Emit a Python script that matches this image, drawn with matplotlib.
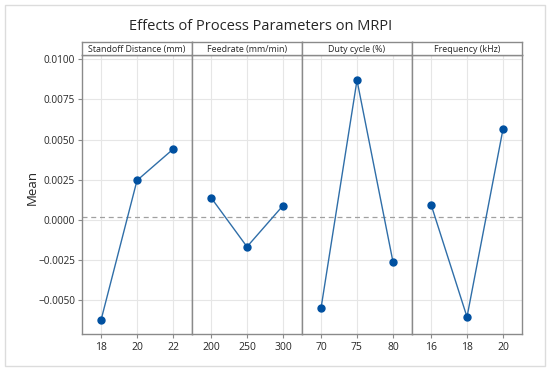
import matplotlib.pyplot as plt
from matplotlib.patches import Rectangle

plt.rcParams['font.family'] = ['Open Sans', 'DejaVu Sans']

# factors and level means
factors = ['Standoff Distance (mm)', 'Feedrate (mm/min)', 'Duty cycle (%)', 'Frequency (kHz)']
levels = [['18', '20', '22'], ['200', '250', '300'], ['70', '75', '80'], ['16', '18', '20']]
means = [
    [-0.00623, 0.00246, 0.00440],
    [0.00139, -0.00167, 0.00089],
    [-0.00548, 0.00870, -0.00260],
    [0.00096, -0.00604, 0.00564],
]
grand_mean = 0.00021
yticks = [-0.005, -0.0025, 0.0, 0.0025, 0.005, 0.0075, 0.01]

W, H = 550, 371
fig = plt.figure(figsize=(5.5, 3.71), dpi=100)

# light frame round the whole picture
fig.patches.append(Rectangle((5 / W, 5 / H), 540 / W, 361 / H, transform=fig.transFigure,
                             fill=False, edgecolor='#dcdcdc', linewidth=1))

left_px, right_px = 82, 522
top_px, strip_px, bottom_px = 42, 55, 334
pw = (right_px - left_px) / 4

line_col = '#2f6ea8'
mark_col = '#0050a0'
frame_col = '#8a8a8a'
text_col = '#262626'

for i in range(4):
    x0 = (left_px + i * pw) / W
    ax = fig.add_axes([x0, 1 - bottom_px / H, pw / W, (bottom_px - strip_px) / H])
    xs = list(range(len(levels[i])))
    ax.plot(xs, means[i], color=line_col, linewidth=1.0, marker='o',
            markersize=5, markerfacecolor=mark_col, markeredgecolor=mark_col, zorder=3)
    ax.axhline(grand_mean, color='#a0a0a0', linestyle='--', linewidth=0.9, dashes=(4, 3), zorder=2)
    ax.set_xlim(-0.53, 2.53)
    ax.set_ylim(-0.0071, 0.01027)
    ax.set_xticks(xs)
    ax.set_xticklabels(levels[i], fontsize=7.5, color=text_col)
    ax.set_yticks(yticks)
    ax.grid(True, color='#e6e6e6', linewidth=0.8, zorder=0)
    ax.set_axisbelow(True)
    for s in ax.spines.values():
        s.set_color(frame_col)
        s.set_linewidth(1.0)
    ax.tick_params(axis='x', length=3, color=frame_col, pad=3)
    if i == 0:
        ax.set_yticklabels(['\u22120.0050', '\u22120.0025', '0.0000', '0.0025',
                            '0.0050', '0.0075', '0.0100'], fontsize=7.2, color=text_col)
        ax.tick_params(axis='y', length=3, color=frame_col, pad=2)
    else:
        ax.tick_params(axis='y', length=0, labelleft=False)

    # strip header with the factor name
    sax = fig.add_axes([x0, 1 - strip_px / H, pw / W, (strip_px - top_px) / H])
    sax.set_xticks([])
    sax.set_yticks([])
    for s in sax.spines.values():
        s.set_color(frame_col)
        s.set_linewidth(1.0)
    sax.text(0.5, 0.45, factors[i], ha='center', va='center', fontsize=6.4, color=text_col,
             transform=sax.transAxes)

fig.text(32 / W, 1 - 187 / H, 'Mean', rotation=90, ha='center', va='center',
         fontsize=9.5, color=text_col)
fig.text(261 / W, 1 - 26 / H, 'Effects of Process Parameters on MRPI', ha='center', va='center',
         fontsize=10.5, color=text_col)

fig.savefig('out.png', dpi=100)
